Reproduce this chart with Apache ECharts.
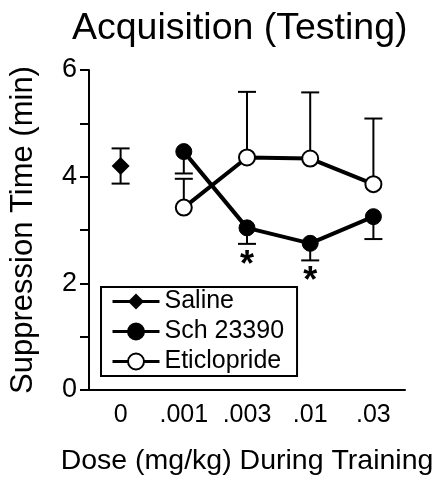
<!DOCTYPE html>
<html>
<head>
<meta charset="utf-8">
<script src="https://cdn.jsdelivr.net/npm/echarts@6/dist/echarts.min.js"></script>
<style>
html, body { margin: 0; padding: 0; background: #fff; }
#main { width: 446px; height: 489px; }
</style>
</head>
<body>
<div id="main"></div>
<script>
// doses on the x axis
var doses = ['0', '.001', '.003', '.01', '.03'];
var yTicks = [0, 2, 4, 6];

// saline control (only at dose 0)
var salineMean = [4.2, '-', '-', '-', '-'];
var salineSem = [0.33, 0, 0, 0, 0];

// Sch 23390
var schMean = ['-', 4.47, 3.04, 2.75, 3.25];
var schSem = [0, 0.41, 0.30, 0.32, 0.42];

// Eticlopride
var eticMean = ['-', 3.42, 4.36, 4.34, 3.86];
var eticSem = [0, 0.54, 1.23, 1.24, 1.23];

// doses marked significant for Sch 23390
var sigIdx = [2, 3];

var FONT = 'Liberation Sans, Arial, sans-serif';

function errData(mean, sem, down, up) {
  var out = [];
  mean.forEach(function (m, i) {
    if (m === '-') return;
    out.push([i, down ? m - sem[i] : m, up ? m + sem[i] : m, down ? 1 : 0, up ? 1 : 0]);
  });
  return out;
}

function renderErr(params, api) {
  var x = api.value(0);
  var lo = api.coord([x, api.value(1)]);
  var hi = api.coord([x, api.value(2)]);
  var w = 9;
  var st = { stroke: '#000', lineWidth: 2 };
  var kids = [{ type: 'line', shape: { x1: lo[0], y1: lo[1], x2: hi[0], y2: hi[1] }, style: st }];
  if (api.value(3)) kids.push({ type: 'line', shape: { x1: lo[0] - w, y1: lo[1], x2: lo[0] + w, y2: lo[1] }, style: st });
  if (api.value(4)) kids.push({ type: 'line', shape: { x1: hi[0] - w, y1: hi[1], x2: hi[0] + w, y2: hi[1] }, style: st });
  return { type: 'group', children: kids };
}

var sigData = sigIdx.map(function (i) { return [i, schMean[i] - schSem[i]]; });

function renderStar(params, api) {
  var p = api.coord([api.value(0), api.value(1)]);
  return {
    type: 'text',
    style: { x: p[0], y: p[1] + 4, text: '*', fontSize: 36, fontWeight: 'bold', fontFamily: FONT, fill: '#000', align: 'center', verticalAlign: 'top' }
  };
}

var chart = echarts.init(document.getElementById('main'));

var option = {
  animation: false,
  title: {
    text: 'Acquisition (Testing)',
    left: 67,
    top: 5,
    textStyle: { fontSize: 37.5, fontWeight: 'normal', color: '#000', fontFamily: FONT }
  },
  grid: { left: 87, right: 41, top: 70, bottom: 99 },
  legend: {
    orient: 'vertical',
    left: 101,
    top: 287,
    data: ['Saline', 'Sch 23390', 'Eticlopride'],
    itemWidth: 47,
    itemHeight: 20,
    itemGap: 1,
    padding: [0, 13, 0, 10],
    borderColor: '#000',
    borderWidth: 2,
    lineStyle: { width: 3 },
    textStyle: { fontSize: 25, color: '#000', fontFamily: FONT, lineHeight: 29 }
  },
  xAxis: {
    type: 'category',
    data: doses,
    boundaryGap: true,
    name: 'Dose (mg/kg) During Training',
    nameLocation: 'middle',
    nameGap: 57,
    nameTextStyle: { fontSize: 28.5, color: '#000', fontFamily: FONT },
    axisLine: { lineStyle: { color: '#000', width: 2 } },
    axisTick: { alignWithLabel: true, length: 10, lineStyle: { color: '#000', width: 2 } },
    axisLabel: { interval: 0, hideOverlap: false, fontSize: 25, color: '#000', fontFamily: FONT, margin: 13 },
    splitLine: { show: false }
  },
  yAxis: {
    type: 'value',
    min: 0,
    max: 6,
    interval: 1,
    name: 'Suppression Time (min)',
    nameLocation: 'middle',
    nameGap: 50,
    nameTextStyle: { fontSize: 31, color: '#000', fontFamily: FONT },
    axisLine: { show: true, lineStyle: { color: '#000', width: 2 } },
    axisTick: { show: true, length: 9, lineStyle: { color: '#000', width: 2 } },
    axisLabel: {
      fontSize: 27, color: '#000', fontFamily: FONT, margin: 12,
      formatter: function (v) { return yTicks.indexOf(v) >= 0 ? String(v) : ''; }
    },
    splitLine: { show: false }
  },
  series: [
    {
      type: 'custom', name: 'errSaline', renderItem: renderErr, z: 1,
      encode: { x: 0, y: [1, 2] }, data: errData(salineMean, salineSem, true, true)
    },
    {
      type: 'custom', name: 'errSch', renderItem: renderErr, z: 1,
      encode: { x: 0, y: [1, 2] }, data: errData(schMean, schSem, true, false)
    },
    {
      type: 'custom', name: 'errEtic', renderItem: renderErr, z: 1,
      encode: { x: 0, y: [1, 2] }, data: errData(eticMean, eticSem, false, true)
    },
    {
      name: 'Eticlopride', type: 'line', data: eticMean, z: 3,
      symbol: 'circle', symbolSize: 16,
      lineStyle: { color: '#000', width: 4 },
      itemStyle: { color: '#fff', borderColor: '#000', borderWidth: 2 }
    },
    {
      name: 'Sch 23390', type: 'line', data: schMean, z: 4,
      symbol: 'circle', symbolSize: 16,
      lineStyle: { color: '#000', width: 4 },
      itemStyle: { color: '#000', borderColor: '#000', borderWidth: 1 }
    },
    {
      name: 'Saline', type: 'line', data: salineMean, z: 4,
      symbol: 'diamond', symbolSize: 18,
      lineStyle: { color: '#000', width: 3 },
      itemStyle: { color: '#000' }
    },
    {
      type: 'custom', name: 'sig', renderItem: renderStar, z: 5,
      encode: { x: 0, y: 1 }, data: sigData
    }
  ]
};

chart.setOption(option);
</script>
</body>
</html>
